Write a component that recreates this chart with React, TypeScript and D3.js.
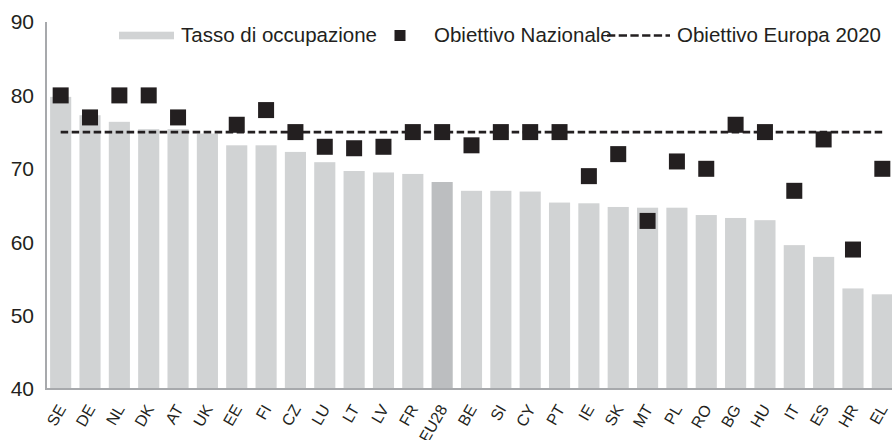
import React from "react";
import * as d3 from "d3";

const countries = ["SE","DE","NL","DK","AT","UK","EE","FI","CZ","LU","LT","LV","FR","EU28","BE","SI","CY","PT","IE","SK","MT","PL","RO","BG","HU","IT","ES","HR","EL"];
const employmentRate = [79.8,77.3,76.4,75.4,75.4,74.8,73.2,73.2,72.3,70.9,69.7,69.5,69.3,68.2,67.0,67.0,66.9,65.4,65.3,64.8,64.7,64.7,63.7,63.3,63.0,59.6,58.0,53.7,52.9];
const nationalTarget: (number | null)[] = [80,77,80,80,77,null,76,78,75,73,72.8,73,75,75,73.2,75,75,75,69,72,62.9,71,70,76,75,67,74,59,70];
const europeTarget = 75;
const yTicks = [40,50,60,70,80,90];
const legendLabels = ["Tasso di occupazione","Obiettivo Nazionale","Obiettivo Europa 2020"];

const W = 892, H = 440;
const textColor = "#231f20";
const barColor = "#d1d3d4";
const euColor = "#bcbec0";
const axisColor = "#a7a9ac";
const font = "'Liberation Sans', Arial, sans-serif";

export default function App() {
  const x = d3.scaleBand<string>().domain(countries).range([46, 897]).paddingInner(0.28).paddingOuter(0.14);
  const y = d3.scaleLinear().domain([40, 90]).range([389, 22]);
  const cx = (c: string) => (x(c) as number) + x.bandwidth() / 2;
  const sq = 16;
  return (
    <svg width={W} height={H} style={{ position: "absolute", left: 0, top: 0, background: "#fff" }} fontFamily={font}>
      <rect x={0} y={0} width={W} height={H} fill="#fff" />
      {/* bars */}
      {countries.map((c, i) => (
        <rect key={c} x={x(c)} y={y(employmentRate[i])} width={x.bandwidth()} height={y(40) - y(employmentRate[i])}
          fill={c === "EU28" ? euColor : barColor} />
      ))}
      {/* Europe target line */}
      <line x1={cx(countries[0])} x2={cx(countries[countries.length - 1])} y1={y(europeTarget)} y2={y(europeTarget)}
        stroke={textColor} strokeWidth={2.8} strokeDasharray="7.5,3.5" />
      {/* national targets */}
      {countries.map((c, i) => nationalTarget[i] == null ? null : (
        <rect key={"t" + c} x={cx(c) - sq / 2} y={y(nationalTarget[i] as number) - sq / 2} width={sq} height={sq} fill={textColor} />
      ))}
      {/* axes */}
      <line x1={46} x2={46} y1={y(90)} y2={y(40) + 1} stroke={axisColor} strokeWidth={2} />
      <line x1={45} x2={W} y1={y(40)} y2={y(40)} stroke={axisColor} strokeWidth={2} />
      {yTicks.map(t => (
        <text key={t} x={34} y={y(t)} dy="0.35em" textAnchor="end" fontSize={21} fill={textColor}>{t}</text>
      ))}
      {countries.map(c => (
        <text key={"l" + c} transform={`translate(${cx(c) + 1},406) rotate(-60)`} dy="0.35em" textAnchor="end" fontSize={16} fill={textColor}>{c}</text>
      ))}
      {/* legend */}
      <rect x={119} y={31.7} width={55} height={7.6} fill={barColor} />
      <text x={181} y={42} fontSize={20.5} fill={textColor}>{legendLabels[0]}</text>
      <rect x={394.5} y={30} width={11} height={11} fill={textColor} />
      <text x={434} y={42} fontSize={20.5} fill={textColor}>{legendLabels[1]}</text>
      <line x1={607} x2={670} y1={35.5} y2={35.5} stroke={textColor} strokeWidth={2.5} strokeDasharray="8.3,3.4" />
      <text x={677} y={42} fontSize={20.5} fill={textColor}>{legendLabels[2]}</text>
    </svg>
  );
}
